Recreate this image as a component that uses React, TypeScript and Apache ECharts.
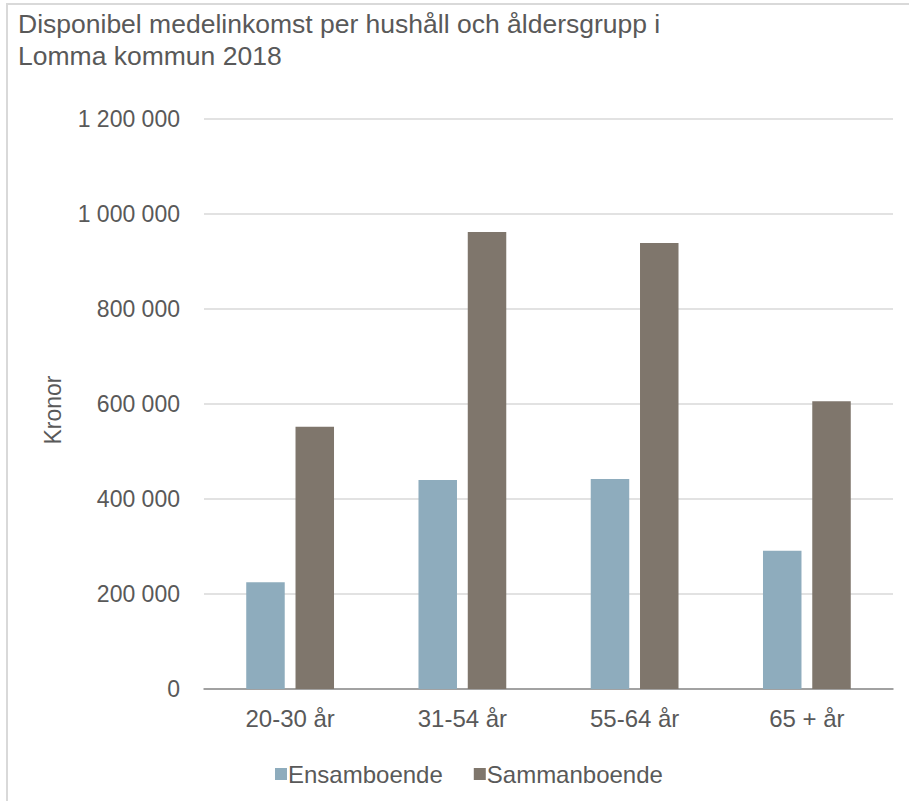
import React, { useEffect, useRef } from "react";
import * as echarts from "echarts";

const titleText = "Disponibel medelinkomst per hushåll och åldersgrupp i\nLomma kommun 2018";
const yAxisName = "Kronor";
const categories = ["20-30 år", "31-54 år", "55-64 år", "65 + år"];
const seriesNames = ["Ensamboende", "Sammanboende"];
const ensamboende = [225000, 440000, 442000, 291000];
const sammanboende = [552000, 962000, 939000, 606000];
const yTicks = { min: 0, max: 1200000, interval: 200000 };

const FONT = "'Liberation Sans', Arial, sans-serif";
const TEXT = "#595959";

function fmt(v: number): string {
  return String(Math.round(v)).replace(/\B(?=(\d{3})+(?!\d))/g, " ");
}

export default function App() {
  const ref = useRef<HTMLDivElement>(null);
  useEffect(() => {
    if (!ref.current) return;
    const chart = echarts.init(ref.current, undefined, { renderer: "svg" });
    chart.setOption({
      animation: false,
      backgroundColor: "#ffffff",
      textStyle: { fontFamily: FONT },
      title: {
        text: titleText,
        left: 18,
        top: 8,
        padding: 0,
        textStyle: { fontFamily: FONT, fontSize: 26.5, lineHeight: 32, fontWeight: "normal", color: TEXT },
      },
      graphic: [
        {
          type: "rect",
          shape: { x: 7, y: 4, width: 930, height: 830 },
          style: { fill: "none", stroke: "#d9d9d9", lineWidth: 2 },
          silent: true,
        },
        {
          type: "text",
          x: 53,
          y: 410,
          rotation: Math.PI / 2,
          style: {
            text: yAxisName,
            fontFamily: FONT,
            fontSize: 23,
            fill: TEXT,
            align: "center",
            verticalAlign: "middle",
          },
        },
      ],
      legend: {
        left: 270,
        top: 757,
        icon: "rect",
        itemWidth: 12,
        itemHeight: 12,
        itemGap: 31,
        textStyle: { fontFamily: FONT, fontSize: 24, color: TEXT, padding: [0, 0, 0, -4] },
        data: seriesNames,
      },
      grid: { left: 204, right: 16, top: 119, bottom: 112, containLabel: false },
      xAxis: {
        type: "category",
        data: categories,
        axisLine: { lineStyle: { color: "#8c8c8c", width: 1.5 } },
        axisTick: { show: false },
        axisLabel: { fontFamily: FONT, fontSize: 24, color: TEXT, margin: 17 },
      },
      yAxis: {
        type: "value",
        min: yTicks.min,
        max: yTicks.max,
        interval: yTicks.interval,
        axisLine: { show: false },
        axisTick: { show: false },
        axisLabel: { fontFamily: FONT, fontSize: 23, color: TEXT, margin: 24, formatter: (v: number) => fmt(v) },
        splitLine: { lineStyle: { color: "#d9d9d9", width: 1.5 } },
      },
      series: [
        {
          name: seriesNames[0],
          type: "bar",
          data: ensamboende,
          barWidth: 38.5,
          barGap: "28%",
          itemStyle: { color: "#8eacbd" },
        },
        {
          name: seriesNames[1],
          type: "bar",
          data: sammanboende,
          barWidth: 38.5,
          barGap: "28%",
          itemStyle: { color: "#7f766c" },
        },
      ],
    });
    return () => chart.dispose();
  }, []);
  return (
    <div
      ref={ref}
      style={{ position: "fixed", left: 0, top: 0, width: 909, height: 801, background: "#fff" }}
    />
  );
}
